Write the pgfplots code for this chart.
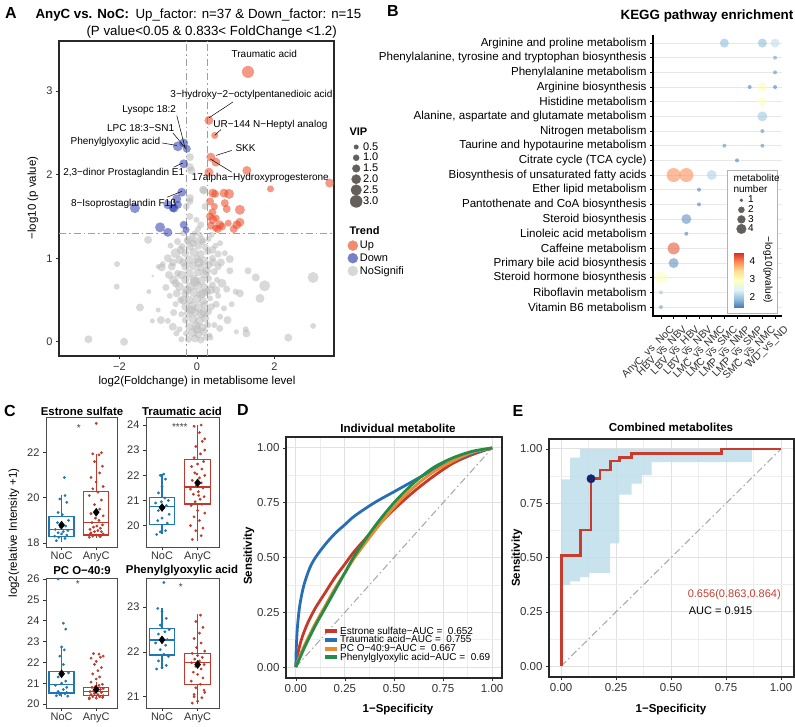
\documentclass[border=0pt]{standalone}
\usepackage{fontspec}
\setmainfont{Liberation Sans}
\usepackage{pgfplots}
\usepackage{pgfplotstable}
\pgfplotsset{compat=1.18}
\usepgfplotslibrary{statistics}

\newcommand{\fs}[1]{\fontsize{#1}{#1}\selectfont}

\definecolor{upc}{RGB}{235,70,35}
\definecolor{downc}{RGB}{45,60,175}
\definecolor{nsc}{RGB}{185,185,185}
\definecolor{upleg}{RGB}{240,140,110}
\definecolor{downleg}{RGB}{120,128,200}
\definecolor{nsleg}{RGB}{215,215,215}
\definecolor{vipc}{RGB}{100,95,90}
\definecolor{cblue}{RGB}{31,119,180}
\definecolor{cred}{RGB}{192,57,43}
\definecolor{rocred}{RGB}{200,55,40}
\definecolor{rocblue}{RGB}{40,110,180}
\definecolor{rocorange}{RGB}{232,140,50}
\definecolor{rocgreen}{RGB}{35,140,70}
\definecolor{bandc}{RGB}{190,222,234}
\definecolor{stepc}{RGB}{200,60,45}
\definecolor{navyc}{RGB}{25,35,110}
\definecolor{gridmaj}{RGB}{225,225,225}
\definecolor{gridmin}{RGB}{238,238,238}
\definecolor{framec}{RGB}{40,40,40}

% volcano plot: log2 fold change, -log10 p, marker radius (scaled VIP)
\pgfplotstableread{
x y r
-0.22 0.03 3.5
-0.05 0.04 4
0.10 0.02 3.5
0.22 0.05 3
-0.28 0.10 3
-0.12 0.11 4.5
0.04 0.09 4
0.18 0.12 4
0.33 0.08 2.5
-0.20 0.18 4
-0.02 0.19 4.5
0.14 0.17 4
0.28 0.20 3.5
-0.30 0.26 3.5
-0.10 0.27 4.5
0.06 0.25 4.5
0.22 0.28 4
-0.40 0.33 3
-0.22 0.34 4.5
-0.04 0.35 4
0.12 0.33 4.5
0.30 0.36 3.5
-0.30 0.42 4
-0.12 0.43 4.5
0.04 0.41 4.5
0.20 0.44 4
0.38 0.42 3.5
-0.42 0.50 3.5
-0.20 0.50 4.5
0.00 0.51 4.5
0.16 0.49 4
0.34 0.52 3
-0.52 0.58 4
-0.30 0.58 4
-0.08 0.59 4.5
0.10 0.57 4.5
0.26 0.60 4
-0.45 0.66 4.5
-0.18 0.66 4.5
0.02 0.67 4.5
0.20 0.65 4
0.40 0.68 3.5
-0.60 0.74 4.5
-0.30 0.74 4
-0.08 0.75 4.5
0.12 0.73 4.5
0.30 0.76 3.5
-0.50 0.82 3.5
-0.20 0.82 4.5
0.02 0.83 4
0.20 0.81 4.5
0.45 0.84 3.5
-0.65 0.90 4
-0.30 0.90 4
-0.10 0.91 4.5
0.10 0.89 4
0.30 0.92 4
0.55 0.90 3.5
-0.45 0.98 4
-0.20 0.98 4.5
0.00 0.99 4
0.18 0.97 4.5
0.40 1.00 3.5
-0.55 1.06 5
-0.30 1.06 4
-0.08 1.07 4.5
0.10 1.05 4
0.28 1.08 3.5
-0.38 1.14 3.5
-0.18 1.14 4
0.04 1.15 4
0.22 1.13 3.5
-0.25 1.21 3.5
-0.05 1.22 3.5
0.15 1.20 3.5
0.30 1.23 3
-0.12 1.27 3
0.08 1.28 3
-0.40 0.80 4.5
0.35 0.62 4.5
-0.35 0.50 4.5
0.42 0.95 4
-0.42 1.10 4
0.40 1.10 4
-0.15 0.38 4.5
0.18 0.35 4.5
-0.05 0.72 5
0.05 0.95 5
-0.25 0.62 4.5
0.25 0.85 4.5
-0.10 1.18 4
0.00 0.15 4.5
0.15 0.58 4.5
-0.35 0.95 4
0.50 0.62 4
-0.55 0.70 4
0.55 1.05 3.5
-0.62 0.95 4
-0.75 1.00 4
-0.88 0.93 3
0.62 0.95 4
0.72 1.06 3
0.50 0.45 3.5
0.60 0.30 3
-0.60 0.35 3.5
-0.70 0.55 3
0.45 0.20 3
-0.45 0.15 3
0.65 0.70 4.5
-0.72 0.80 4
0.48 1.15 3
-0.50 1.20 3.5
-0.62 0.18 4
-0.53 0.10 3
0.79 0.26 4
0.59 0.16 3.5
0.77 0.63 3.5
0.52 0.74 3
0.85 0.99 4
0.85 0.85 3.5
-0.91 0.89 4
-1.00 0.90 2.5
-1.00 0.38 2.5
-0.93 0.26 4
-1.15 0.25 2.5
-1.26 1.22 4
-1.24 0.60 2.5
-1.47 0.41 4
-2.07 0.66 3
-2.06 0.93 3
-1.88 0.00 4
-2.80 0.03 4
-1.14 0.79 1.5
1.52 0.77 4
1.75 0.67 5.5
1.63 0.52 4.5
1.11 0.58 4
1.00 0.60 3
1.32 0.85 3.5
1.02 0.12 2.5
1.28 0.10 4
1.26 0.15 3
2.36 0.05 4
3.00 0.19 3
3.00 0.77 5.5
-0.22 1.22 4
0.12 1.22 4
-0.18 2.21 4
-0.14 2.05 4
0.16 1.82 4
-0.18 1.72 4
0.21 1.62 3.5
-0.01 1.46 3
-0.27 1.62 3.5
0.03 1.35 3
0.10 1.40 3.5
-0.18 1.50 3.5
-0.18 2.09 4
0.18 1.81 4
-0.18 1.68 3.5
-0.05 1.30 3
-0.35 1.30 3
0.38 1.28 3
0.55 0.55 3
-0.55 0.45 3
0.70 0.40 3
-0.80 0.65 3.5
0.90 0.45 3
-0.75 0.25 3
0.35 0.05 3
-0.40 0.03 3
0.60 1.18 3
-0.68 1.15 3
}\nsdata

\pgfplotstableread{
x y r
1.32 3.23 6
0.31 2.65 4.5
0.46 2.47 3.5
0.36 2.21 4.5
0.49 2.15 4.5
1.29 2.05 4.5
0.31 2.03 4.5
3.43 1.90 4.5
1.90 1.83 3.5
0.41 1.78 4.5
0.47 1.77 4
0.70 1.78 4.5
0.83 1.77 5
0.34 1.68 4
0.72 1.66 4
0.77 1.59 4
1.11 1.58 5
0.45 1.62 3.5
0.34 1.50 4
0.41 1.46 4.5
0.50 1.48 3.5
0.59 1.40 4.5
0.81 1.42 3.5
1.03 1.40 4.5
1.11 1.43 4.5
0.36 1.39 4
0.54 1.35 4
0.65 1.38 4
0.48 1.36 3.5
0.95 1.35 4
0.40 1.55 4
}\updata

\pgfplotstableread{
x y r
-0.34 2.38 4.5
-0.49 2.34 5
-0.26 2.31 4
-0.34 2.13 4.5
-0.39 1.79 4.5
-0.52 1.71 4.5
-0.59 1.60 4.5
-0.75 1.64 4.5
-1.60 1.60 5
-0.95 1.37 5
-0.75 1.31 4.5
-0.34 1.40 4
-0.28 1.34 3.5
-0.49 1.64 4
-0.62 1.60 4
}\downdata

% KEGG enrichment: comparison column, pathway row, -log10(p), bubble radius
\pgfplotstableread{
c y v r
6 19 1.9 4.5
9 19 1.9 4.5
10 19 2.2 4.5
10 18 1.7 2
10 17 1.6 2
8 16 1.5 2
9 16 3.0 4.5
10 16 1.5 2
9 15 2.9 4.5
9 14 2.0 5
9 13 1.6 2
6 12 1.6 2
9 12 1.6 2
7 11 1.5 2
2 10 3.9 7
3 10 3.9 7
5 10 2.1 5
4 9 1.5 2
4 8 1.5 2
3 7 1.6 5
3 6 1.5 2
2 5 4.2 6
2 4 1.6 5
1 3 2.9 6
1 2 2.0 2
1 1 1.7 2
}\keggdata

\tikzset{lab/.style={font=\fs{10}, inner sep=0.5pt}}

\pgfplotsset{
  colormap={rdylbu}{rgb255=(69,117,180) rgb255=(145,191,219) rgb255=(224,243,248) rgb255=(255,255,191) rgb255=(254,224,144) rgb255=(252,141,89) rgb255=(215,48,39)},
  every axis/.append style={scale only axis, anchor=south west,
    /pgf/number format/assume math mode=true,
    tick align=outside, major tick length=3pt,
    tick style={line width=0.6pt, black!80},
    tick label style={font=\fs{11}, text=black!80}},
  bubble/.style={scatter, only marks, mark=*,
    visualization depends on={\thisrow{r}\as\perpointmarksize},
    scatter/@pre marker code/.append style={/tikz/mark size=\perpointmarksize}},
  dashdot/.style={dash pattern=on 7pt off 3pt on 1.5pt off 3pt},
  dotlegend/.style={legend cell align=left,
    legend image code/.code={\path[draw=none, fill=none] (-6pt,-1pt) rectangle (6pt,1pt); \draw[##1] plot coordinates {(0pt,0pt)};}},
  linelegend/.style={legend cell align=left,
    legend image code/.code={\draw[##1, line width=4pt] (0pt,0pt) -- (12pt,0pt);}},
  cbox/.style={xmin=0.55, xmax=2.6, xtick={1,2}, xticklabels={NoC,AnyC},
    xtick pos=left, ytick pos=left, axis line style={line width=0.8pt, black!70},
    x tick label style={inner sep=1.5pt},
    boxplot/draw direction=y, clip mode=individual},
  roc/.style={xmin=-0.05, xmax=1.05, ymin=-0.05, ymax=1.05,
    xtick={0,0.25,0.5,0.75,1}, xticklabels={0.00,0.25,0.50,0.75,1.00},
    ytick={0,0.25,0.5,0.75,1}, yticklabels={0.00,0.25,0.50,0.75,1.00},
    minor xtick={0.125,0.375,0.625,0.875}, minor ytick={0.125,0.375,0.625,0.875},
    grid=both, major grid style={gridmaj, line width=1pt}, minor grid style={gridmin, line width=0.6pt},
    minor tick length=0pt, xtick pos=left, ytick pos=left,
    axis line style={line width=1.5pt, framec},
    tick label style={font=\fs{11.5}}},
}

\begin{document}
\begin{tikzpicture}[x=1pt,y=1pt]
\useasboundingbox (0,0) rectangle (795,726);

% ---------------- A: volcano plot ----------------
\node[font=\bfseries\fs{16}] at (11,713) {A};
\node[anchor=west, font=\bfseries\fs{13.3}] at (32,711) {AnyC vs. NoC:};
\node[anchor=west, font=\fs{13.3}] at (132,711) {Up\_factor: n=37 \& Down\_factor: n=15};
\node[anchor=west, font=\fs{13.3}] at (83,694) {(P value<0.05 \& 0.833< FoldChange <1.2)};
\node[rotate=90, font=\fs{11.5}] at (33,528) {−log10 (p value)};
\node[font=\fs{11.5}] at (197,344) {log2(Foldchange) in metablisome level};

\begin{axis}[at={(59pt,370pt)}, width=275pt, height=315pt,
  xmin=-3.56, xmax=3.54, ymin=-0.17, ymax=3.6,
  xtick={-2,0,2}, xticklabels={−2,0,2}, ytick={0,1,2,3},
  xtick pos=left, ytick pos=left,
  axis line style={line width=1.1pt, framec},
  clip mode=individual, dotlegend,
  legend style={at={(1.035,0.375)}, anchor=north west, draw=none, fill=none,
    font=\fs{11}, row sep=1.5pt, nodes={inner sep=1pt}}]
\addplot[scatter/use mapped color={draw opacity=0, fill=nsc, fill opacity=0.55}, bubble, forget plot]
  table[x=x, y=y] {\nsdata};
\addplot[forget plot, gray!75, line width=0.8pt, dashdot] coordinates {(-3.56,1.301) (3.54,1.301)};
\addplot[forget plot, gray!75, line width=0.8pt, dashdot] coordinates {(-0.263,-0.17) (-0.263,3.6)};
\addplot[forget plot, gray!75, line width=0.8pt, dashdot] coordinates {(0.263,-0.17) (0.263,3.6)};
\addplot[scatter/use mapped color={draw opacity=0, fill=upc, fill opacity=0.55}, bubble, forget plot]
  table[x=x, y=y] {\updata};
\addplot[scatter/use mapped color={draw opacity=0, fill=downc, fill opacity=0.55}, bubble, forget plot]
  table[x=x, y=y] {\downdata};
\addlegendimage{only marks, mark=*, mark size=5pt, upleg}
\addlegendentry{Up}
\addlegendimage{only marks, mark=*, mark size=5pt, downleg}
\addlegendentry{Down}
\addlegendimage{only marks, mark=*, mark size=5pt, nsleg}
\addlegendentry{NoSignifi}
% labels of the named metabolites
\node[lab, anchor=west] at (axis cs:0.88,3.44) {Traumatic acid};
\draw[line width=0.5pt] (axis cs:0.31,2.68) -- (axis cs:0.93,2.87);
\node[lab, anchor=west] at (axis cs:-0.70,2.96) {3−hydroxy−2−octylpentanedioic acid};
\draw[line width=0.5pt] (axis cs:0.46,2.47) -- (axis cs:0.62,2.54);
\node[lab, anchor=west] at (axis cs:0.41,2.60) {UR−144 N−Heptyl analog};
\draw[line width=0.5pt] (axis cs:0.49,2.23) -- (axis cs:0.90,2.29);
\node[lab, anchor=west] at (axis cs:0.98,2.32) {SKK};
\draw[line width=0.5pt] (axis cs:0.34,2.19) -- (axis cs:0.90,2.03);
\node[lab, anchor=west] at (axis cs:-0.15,1.96) {17alpha−Hydroxyprogesterone};
\draw[line width=0.5pt] (axis cs:-0.52,2.71) -- (axis cs:-0.31,2.33);
\node[lab, anchor=east] at (axis cs:-0.52,2.77) {Lysopc 18:2};
\draw[line width=0.5pt] (axis cs:-0.62,2.50) -- (axis cs:-0.28,2.31);
\node[lab, anchor=east] at (axis cs:-0.57,2.56) {LPC 18:3−SN1};
\draw[line width=0.5pt] (axis cs:-0.90,2.38) -- (axis cs:-0.52,2.35);
\node[lab, anchor=east] at (axis cs:-0.93,2.39) {Phenylglyoxylic acid};
\draw[line width=0.5pt] (axis cs:-0.60,2.09) -- (axis cs:-0.36,2.14);
\node[lab, anchor=east] at (axis cs:-0.31,2.02) {2,3−dinor Prostaglandin E1};
\draw[line width=0.5pt] (axis cs:-0.77,1.73) -- (axis cs:-0.39,1.80);
\node[lab, anchor=east] at (axis cs:-0.52,1.65) {8−Isoprostaglandin F1β};
\end{axis}

% VIP size legend
\node[anchor=west, font=\bfseries\fs{11}] at (346,594) {VIP};
\node[anchor=west, font=\bfseries\fs{11}] at (346,495) {Trend};
\begin{axis}[at={(0pt,0pt)}, width=795pt, height=726pt, xmin=0, xmax=795, ymin=0, ymax=726,
  hide axis, dotlegend,
  legend style={at={(0.4365,0.808)}, anchor=north west, draw=none, fill=none,
    font=\fs{11}, row sep=0pt, nodes={inner sep=0.8pt}}]
\addlegendimage{only marks, mark=*, mark size=2.2pt, vipc}
\addlegendentry{0.5}
\addlegendimage{only marks, mark=*, mark size=3pt, vipc}
\addlegendentry{1.0}
\addlegendimage{only marks, mark=*, mark size=3.8pt, vipc}
\addlegendentry{1.5}
\addlegendimage{only marks, mark=*, mark size=4.6pt, vipc}
\addlegendentry{2.0}
\addlegendimage{only marks, mark=*, mark size=5.3pt, vipc}
\addlegendentry{2.5}
\addlegendimage{only marks, mark=*, mark size=6pt, vipc}
\addlegendentry{3.0}
\end{axis}

% ---------------- B: KEGG bubble plot ----------------
\node[font=\bfseries\fs{16}] at (393,715) {B};
\node[font=\bfseries\fs{13.4}] at (707,710) {KEGG pathway enrichment};
\begin{axis}[at={(653pt,410pt)}, width=129pt, height=281pt,
  xmin=0.37, xmax=10.55, ymin=0.39, ymax=19.55,
  xtick={1,...,10},
  xticklabels={AnyC\_vs\_NoC, HBV\_vs\_NBV, LBV\_vs\_HBV, LBV\_vs\_NBV, LMC\_vs\_NMC, LMC\_vs\_SMC, LMP\_vs\_NMP, LMP\_vs\_SMP, SMC\_vs\_NMC, WD\_vs\_ND},
  ytick={1,...,19},
  yticklabels={Vitamin B6 metabolism, Riboflavin metabolism, Steroid hormone biosynthesis,
    Primary bile acid biosynthesis, Caffeine metabolism, Linoleic acid metabolism,
    Steroid biosynthesis, Pantothenate and CoA biosynthesis, Ether lipid metabolism,
    Biosynthesis of unsaturated fatty acids, Citrate cycle (TCA cycle),
    Taurine and hypotaurine metabolism, Nitrogen metabolism,
    {Alanine, aspartate and glutamate metabolism}, Histidine metabolism,
    Arginine biosynthesis, Phenylalanine metabolism,
    {Phenylalanine, tyrosine and tryptophan biosynthesis}, Arginine and proline metabolism},
  xtick pos=left, ytick pos=left,
  x tick label style={rotate=45, anchor=north east, font=\fs{10.5}, inner sep=1pt, xshift=3pt, yshift=-9pt},
  y tick label style={font=\fs{11.6}, text=black},
  ymajorgrids, major grid style={gray!18, line width=0.9pt},
  axis line style={draw=none},
  tick style={line width=0.8pt, black},
  colormap name=rdylbu, point meta min=1.39, point meta max=4.44,
  clip mode=individual]
\addplot[scatter/use mapped color={draw opacity=0, fill=mapped color, fill opacity=0.62},
  bubble, point meta=\thisrow{v}]
  table[x=c, y=y] {\keggdata};
\draw[line width=1.4pt] (rel axis cs:0,1) -- (rel axis cs:0,0) -- (rel axis cs:1,0);
\end{axis}

% legend box of panel B
\draw[gray!60, fill=white, line width=0.6pt] (727,413) rectangle (777,556);
\node[anchor=west, font=\fs{10}] at (730,548) {metabolite};
\node[anchor=west, font=\fs{10}] at (730,537) {number};
\begin{axis}[at={(0pt,0pt)}, width=795pt, height=726pt, xmin=0, xmax=795, ymin=0, ymax=726,
  hide axis, dotlegend,
  legend style={at={(0.921,0.734)}, anchor=north west, draw=none, fill=none,
    font=\fs{10}, row sep=-0.5pt, nodes={inner sep=0.8pt}}]
\addlegendimage{only marks, mark=*, mark size=1.5pt, vipc}
\addlegendentry{1}
\addlegendimage{only marks, mark=*, mark size=3pt, vipc}
\addlegendentry{2}
\addlegendimage{only marks, mark=*, mark size=3.9pt, vipc}
\addlegendentry{3}
\addlegendimage{only marks, mark=*, mark size=4.8pt, vipc}
\addlegendentry{4}
\end{axis}

% colour scale of -log10(pvalue)
\begin{axis}[at={(734pt,418pt)}, width=10pt, height=55pt, view={0}{90},
  xmin=0, xmax=1, ymin=1.39, ymax=4.44,
  colormap name=rdylbu, point meta min=1.39, point meta max=4.44,
  xtick=\empty, ytick=\empty, ztick=\empty, axis line style={draw=none}]
\addplot3[surf, shader=interp, point meta=z] coordinates {
(0,1.39,1.39) (1,1.39,1.39)

(0,1.898,1.898) (1,1.898,1.898)

(0,2.407,2.407) (1,2.407,2.407)

(0,2.915,2.915) (1,2.915,2.915)

(0,3.423,3.423) (1,3.423,3.423)

(0,3.932,3.932) (1,3.932,3.932)

(0,4.44,4.44) (1,4.44,4.44)
};
\end{axis}
\node[anchor=west, font=\fs{10}] at (746,465) {4};
\node[anchor=west, font=\fs{10}] at (746,447) {3};
\node[anchor=west, font=\fs{10}] at (746,429) {2};
\node[rotate=-90, font=\fs{10}] at (768,456) {−log10(pvalue)};

% ---------------- C: box plots ----------------
\node[font=\bfseries\fs{16}] at (10,315) {C};
\node[rotate=90, font=\fs{11.5}] at (14,193) {log2(relative Intensity +1)};
\node[font=\bfseries\fs{11.4}] at (82,315) {Estrone sulfate};
\node[font=\bfseries\fs{11.4}] at (182,315) {Traumatic acid};
\node[font=\bfseries\fs{11.4}] at (82,155) {PC O−40:9};
\node[font=\bfseries\fs{11.4}] at (182,155) {Phenylglyoxylic acid};

\begin{axis}[cbox, at={(46pt,179pt)}, width=71pt, height=130pt, ymin=17.82, ymax=23.58, ytick={18,20,22}]
\addplot[boxplot prepared={draw position=1, lower whisker=18.05, lower quartile=18.28, median=18.6, upper quartile=19.16, upper whisker=20.12, box extend=0.72, whisker extend=0}, cblue, line width=1.3pt, fill=white] coordinates {};
\addplot[boxplot prepared={draw position=2, lower whisker=18.22, lower quartile=18.35, median=18.91, upper quartile=20.27, upper whisker=21.95, box extend=0.72, whisker extend=0}, cred, line width=1.3pt, fill=white] coordinates {};
\addplot[only marks, mark=*, mark size=1.2pt, cblue] coordinates {
(0.85,18.1) (0.92,18.25) (1.1,18.2) (1.15,18.35) (0.9,18.45) (1.05,18.5) (1.18,18.55) (0.82,18.6) (0.97,18.7) (1.12,18.75) (0.88,18.9) (1.2,19.0) (1.02,19.25) (0.9,19.35) (1.15,19.8) (1.1,20.1) (0.95,19.95) (1.08,20.9) (0.8,18.3) (1.0,18.4)};
\addplot[only marks, mark=*, mark size=1.2pt, cred] coordinates {
(1.8,18.25) (1.9,18.3) (2.0,18.35) (2.1,18.3) (2.2,18.4) (1.85,18.45) (1.95,18.5) (2.05,18.55) (2.15,18.5) (1.82,18.6) (2.12,18.65) (1.92,18.7) (2.02,18.75) (2.18,18.8) (1.88,18.9) (2.08,19.0) (1.98,19.1) (2.2,19.2) (1.85,19.3) (2.1,19.5) (1.95,19.7) (2.15,19.9) (1.8,20.1) (2.05,20.25) (1.9,20.4) (2.2,20.5) (2.0,20.7) (1.85,20.9) (2.1,21.1) (2.18,21.4) (1.95,21.6) (2.08,21.9) (2.15,22.0) (1.9,21.95) (2.0,23.3) (2.12,18.28) (1.83,18.4)};
\addplot[only marks, mark=diamond*, mark size=4pt, black] coordinates {(1,18.79) (2,19.36)};
\node[font=\fs{10}, text=black!75] at (axis cs:1.5,23.1) {*};
\end{axis}

\begin{axis}[cbox, at={(146pt,179pt)}, width=73pt, height=130pt, ymin=19.15, ymax=24.32, ytick={20,21,22,23,24}]
\addplot[boxplot prepared={draw position=1, lower whisker=19.65, lower quartile=20.04, median=20.75, upper quartile=21.13, upper whisker=22.07, box extend=0.72, whisker extend=0}, cblue, line width=1.3pt, fill=white] coordinates {};
\addplot[boxplot prepared={draw position=2, lower whisker=19.38, lower quartile=20.86, median=21.54, upper quartile=22.62, upper whisker=24.0, box extend=0.72, whisker extend=0}, cred, line width=1.3pt, fill=white] coordinates {};
\addplot[only marks, mark=*, mark size=1.2pt, cblue] coordinates {
(0.85,19.65) (0.95,19.75) (1.1,19.8) (1.15,20.1) (0.88,20.2) (1.0,20.3) (1.2,20.45) (0.9,20.6) (1.05,20.7) (1.12,20.8) (0.82,20.9) (0.98,20.95) (1.18,21.0) (1.08,21.1) (0.9,21.3) (1.0,21.55) (1.1,21.85) (0.95,22.0) (1.05,22.05)};
\addplot[only marks, mark=*, mark size=1.2pt, cred] coordinates {
(1.85,19.45) (2.1,19.6) (1.95,19.8) (2.15,19.9) (1.8,20.0) (2.05,20.2) (1.9,20.35) (2.2,20.5) (2.0,20.6) (1.82,20.8) (2.12,20.85) (1.93,20.95) (2.07,21.05) (2.18,21.15) (1.88,21.25) (2.02,21.35) (1.8,21.45) (2.15,21.5) (1.97,21.6) (2.1,21.7) (1.85,21.8) (2.05,21.9) (2.2,22.0) (1.92,22.1) (2.12,22.25) (1.83,22.35) (2.0,22.45) (2.17,22.55) (1.9,22.7) (2.08,22.85) (2.2,23.0) (1.95,23.15) (2.13,23.35) (2.2,23.45) (2.05,23.7) (1.9,23.95) (2.1,24.0) (1.98,22.05) (2.03,21.2)};
\addplot[only marks, mark=diamond*, mark size=4pt, black] coordinates {(1,20.72) (2,21.7)};
\node[font=\fs{10}, text=black!75] at (axis cs:1.5,23.93) {****};
\end{axis}

\begin{axis}[cbox, at={(46pt,18pt)}, width=71pt, height=130pt, ymin=19.81, ymax=26.05, ytick={20,21,22,23,24,25,26}]
\addplot[boxplot prepared={draw position=1, lower whisker=20.35, lower quartile=20.53, median=20.93, upper quartile=21.56, upper whisker=22.74, box extend=0.72, whisker extend=0}, cblue, line width=1.3pt, fill=white] coordinates {};
\addplot[boxplot prepared={draw position=2, lower whisker=20.25, lower quartile=20.42, median=20.6, upper quartile=20.8, upper whisker=21.05, box extend=0.72, whisker extend=0}, cred, line width=1.3pt, fill=white] coordinates {};
\addplot[only marks, mark=*, mark size=1.2pt, cblue] coordinates {
(0.85,20.4) (0.95,20.45) (1.1,20.5) (1.18,20.38) (0.9,20.6) (1.05,20.7) (1.15,20.8) (0.82,20.9) (1.0,21.0) (1.12,21.1) (0.9,21.3) (1.2,21.5) (1.05,21.9) (0.95,22.3) (1.08,22.6) (1.0,22.74) (1.12,23.6) (1.05,23.88) (0.9,26.0) (1.15,20.55)};
\addplot[only marks, mark=*, mark size=1.2pt, cred] coordinates {
(1.8,20.3) (1.9,20.35) (2.0,20.28) (2.1,20.35) (2.2,20.4) (1.85,20.45) (1.95,20.5) (2.05,20.45) (2.15,20.55) (1.82,20.6) (1.92,20.62) (2.02,20.66) (2.12,20.7) (2.2,20.75) (1.88,20.8) (1.98,20.85) (2.08,20.9) (2.18,20.95) (1.85,21.05) (2.0,21.2) (2.1,21.3) (1.9,21.45) (2.05,21.6) (2.15,21.75) (1.95,21.9) (2.0,22.05) (1.85,22.2) (2.12,22.25) (1.92,22.42) (2.08,22.4) (2.2,22.3) (1.8,20.25) (2.18,20.32)};
\addplot[only marks, mark=diamond*, mark size=4pt, black] coordinates {(1,21.45) (2,20.7)};
\node[font=\fs{10}, text=black!75] at (axis cs:1.47,25.75) {*};
\end{axis}

\begin{axis}[cbox, at={(146pt,18pt)}, width=73pt, height=130pt, ymin=20.75, ymax=23.65, ytick={21,22,23}]
\addplot[boxplot prepared={draw position=1, lower whisker=21.63, lower quartile=21.93, median=22.27, upper quartile=22.52, upper whisker=22.97, box extend=0.72, whisker extend=0}, cblue, line width=1.3pt, fill=white] coordinates {};
\addplot[boxplot prepared={draw position=2, lower whisker=20.85, lower quartile=21.27, median=21.77, upper quartile=21.96, upper whisker=22.84, box extend=0.72, whisker extend=0}, cred, line width=1.3pt, fill=white] coordinates {};
\addplot[only marks, mark=*, mark size=1.2pt, cblue] coordinates {
(0.85,21.62) (1.0,21.65) (1.12,21.7) (0.9,21.8) (1.18,21.9) (1.05,21.95) (0.95,22.05) (1.1,22.15) (0.82,22.2) (1.15,22.28) (1.0,22.3) (0.9,22.4) (1.08,22.45) (1.2,22.5) (0.95,22.6) (1.12,22.75) (1.0,22.9) (0.88,22.97) (1.05,23.55)};
\addplot[only marks, mark=*, mark size=1.2pt, cred] coordinates {
(1.85,20.86) (2.0,20.9) (2.12,20.98) (1.9,21.05) (2.2,21.1) (1.95,21.2) (2.08,21.28) (1.82,21.35) (2.15,21.42) (2.0,21.5) (1.88,21.55) (2.1,21.62) (1.95,21.68) (2.18,21.72) (1.83,21.76) (2.05,21.8) (1.92,21.84) (2.13,21.88) (2.0,21.92) (1.85,21.97) (2.2,22.02) (1.97,22.1) (2.1,22.2) (1.9,22.3) (2.05,22.42) (2.15,22.55) (1.95,22.68) (2.08,22.82) (2.18,21.15) (1.9,21.0)};
\addplot[only marks, mark=diamond*, mark size=4pt, black] coordinates {(1,22.27) (2,21.72)};
\node[font=\fs{10}, text=black!75] at (axis cs:1.53,23.45) {*};
\end{axis}

% ---------------- D: individual ROC curves ----------------
\node[font=\bfseries\fs{16}] at (243,316) {D};
\node[font=\bfseries\fs{11.6}] at (398,298) {Individual metabolite};
\node[rotate=90, font=\bfseries\fs{11.5}] at (249,170) {Sensitivity};
\node[font=\bfseries\fs{11.5}] at (398,16) {1−Specificity};
\begin{axis}[roc, at={(286pt,48pt)}, width=216pt, height=241pt, linelegend,
  legend style={at={(0.965,0.055)}, anchor=south east, draw=none, fill=none,
    font=\fs{10}, row sep=-2pt, nodes={inner sep=1pt}}]
\addplot[forget plot, gray!70, line width=1pt, dashdot] coordinates {(0,0) (1,1)};
\addplot[rocred, line width=2.8pt, smooth] coordinates {
(0,0) (0.01,0.06) (0.03,0.13) (0.06,0.2) (0.1,0.27) (0.15,0.34) (0.2,0.41) (0.25,0.47) (0.3,0.53) (0.4,0.63) (0.5,0.72) (0.6,0.8) (0.7,0.87) (0.8,0.93) (0.9,0.97) (1,1)};
\addlegendentry{Estrone sulfate−AUC =\ \ 0.652}
\addplot[rocblue, line width=2.8pt, smooth] coordinates {
(0,0) (0.002,0.08) (0.008,0.18) (0.02,0.28) (0.04,0.37) (0.07,0.45) (0.1,0.5) (0.15,0.56) (0.2,0.61) (0.25,0.65) (0.3,0.69) (0.4,0.75) (0.5,0.8) (0.6,0.85) (0.7,0.9) (0.8,0.94) (0.9,0.975) (1,1)};
\addlegendentry{Traumatic acid−AUC =\ \ 0.755}
\addplot[rocorange, line width=2.8pt, smooth] coordinates {
(0,0) (0.02,0.05) (0.05,0.11) (0.1,0.2) (0.15,0.28) (0.2,0.36) (0.25,0.43) (0.3,0.5) (0.4,0.62) (0.5,0.73) (0.6,0.82) (0.7,0.89) (0.8,0.94) (0.9,0.98) (1,1)};
\addlegendentry{PC O−40:9−AUC =\ \ 0.667}
\addplot[rocgreen, line width=2.8pt, smooth] coordinates {
(0,0) (0.02,0.04) (0.05,0.1) (0.1,0.19) (0.15,0.27) (0.2,0.35) (0.25,0.43) (0.3,0.51) (0.4,0.64) (0.5,0.75) (0.6,0.84) (0.7,0.91) (0.8,0.955) (0.9,0.985) (1,1)};
\addlegendentry{Phenylglyoxylic acid−AUC =\ \ 0.69}
\end{axis}

% ---------------- E: combined ROC curve ----------------
\node[font=\bfseries\fs{16}] at (518,315) {E};
\node[font=\bfseries\fs{11.6}] at (671,299) {Combined metabolites};
\node[rotate=90, font=\bfseries\fs{11.5}] at (517,168) {Sensitivity};
\node[font=\bfseries\fs{11.5}] at (671,16) {1−Specificity};
\begin{axis}[roc, at={(549pt,49pt)}, width=245pt, height=238pt,
  xmin=-0.055, xmax=1.059, ymin=-0.05, ymax=1.046]
\addplot[fill=bandc, fill opacity=0.85, draw=none] coordinates {
(0,0.86) (0.041,0.86) (0.041,0.96) (0.086,0.96) (0.086,1.0) (0.867,1.0) (0.867,0.94)
(0.412,0.94) (0.412,0.88) (0.367,0.88) (0.367,0.84) (0.321,0.84) (0.321,0.79) (0.265,0.79)
(0.265,0.565) (0.223,0.565) (0.223,0.43) (0.129,0.43) (0.129,0.41) (0.086,0.41) (0.086,0.39)
(0.041,0.39) (0.041,0.373) (0,0.373)};
\addplot[gray!70, line width=1pt, dashdot] coordinates {(0,0) (1,1)};
\addplot[stepc, line width=2.8pt, line join=miter] coordinates {
(0,0) (0,0.51) (0.087,0.51) (0.087,0.627) (0.136,0.627) (0.136,0.863) (0.177,0.863) (0.177,0.903)
(0.223,0.903) (0.223,0.945) (0.265,0.945) (0.265,0.962) (0.321,0.962) (0.321,0.98) (0.73,0.98)
(0.73,1) (1,1)};
\addplot[only marks, mark=*, mark size=4.2pt, navyc] coordinates {(0.136,0.863)};
\node[anchor=west, font=\fs{11}, text=stepc] at (axis cs:0.56,0.33) {0.656(0.863,0.864)};
\node[anchor=west, font=\fs{11}] at (axis cs:0.565,0.253) {AUC = 0.915};
\end{axis}

\end{tikzpicture}
\end{document}
